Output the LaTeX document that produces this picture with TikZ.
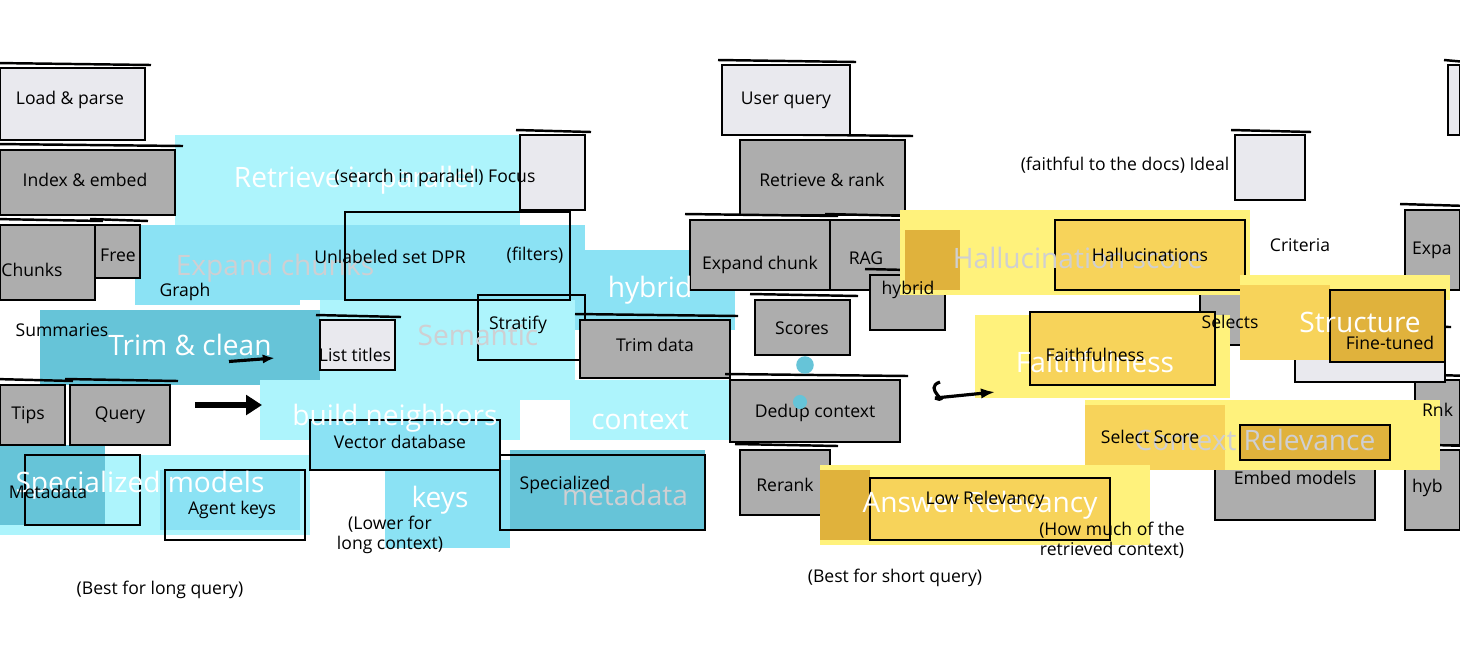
\documentclass[tikz,border=0pt]{standalone}
\usepackage{fontspec}
\setmainfont{Open Sans}
\usetikzlibrary{arrows.meta, positioning}
\definecolor{paper}{HTML}{E9E9EE}
\definecolor{stone}{HTML}{ADADAD}
\definecolor{skyA}{HTML}{ADF4FC}
\definecolor{skyB}{HTML}{8BE2F4}
\definecolor{skyC}{HTML}{66C4D8}
\definecolor{sunA}{HTML}{FFF27C}
\definecolor{sunB}{HTML}{F7D35A}
\definecolor{sunC}{HTML}{E0B23C}
\definecolor{ghost}{HTML}{CFCFD2}
\tikzset{
  sketch/.style={draw=black, line width=1.4pt},
  big/.style={text=white, font=\fontsize{16}{18}\selectfont},
  faded/.style={big, text=ghost},
  small/.style={text=black, font=\fontsize{10}{11}\selectfont, align=center, inner sep=1pt},
}

\begin{document}
\begin{tikzpicture}[x=0.02cm, y=-0.02cm]
\useasboundingbox (0,0) rectangle (1460,657);

% cyan part, left
\fill[skyA] (175,135) rectangle (520,225);
\fill[skyB] (135,225) rectangle (300,305);
\fill[skyB] (300,225) rectangle (585,300);
\fill[skyB] (575,250) rectangle (735,330);
\fill[skyA] (320,300) rectangle (575,400);
\fill[skyC] (40,310) rectangle (320,385);
\fill[skyA] (260,380) rectangle (520,440);
\fill[skyB] (310,420) rectangle (500,470);
\fill[skyA] (570,380) rectangle (730,440);
\fill[skyA] (0,455) rectangle (310,535);
\fill[skyC] (0,445) rectangle (105,525);
\fill[skyB] (160,470) rectangle (300,530);
\fill[skyB] (385,460) rectangle (510,548);
\fill[skyC] (510,450) rectangle (705,530);
\draw[sketch] (345,212) rectangle (570,300);
\draw[sketch] (478,295) rectangle (585,360);
\draw[sketch] (25,455) rectangle (140,525);
\draw[sketch] (165,470) rectangle (305,540);
\draw[sketch] (310,420) rectangle (500,470);
\draw[sketch] (500,455) rectangle (705,530);

% gray boxes
\foreach \a/\b/\c/\d in {0/150/175/215, 0/225/95/300, 95/225/140/278, 0/385/65/445,
    70/385/170/445, 740/140/905/215, 690/220/830/290, 830/220/905/290, 870/275/945/330,
    755/300/850/355, 580/320/730/378, 730/380/900/442, 740/450/830/515,
    1405/210/1460/290, 1200/285/1262/345, 1415/380/1460/445, 1215/430/1375/520,
    1405/450/1460/530}
  {\draw[sketch, fill=stone] (\a,\b) rectangle (\c,\d);
   \draw[sketch] (\a-5,\b-6) -- (\c+8,\b-4);}

% light boxes
\foreach \a/\b/\c/\d in {0/68/145/140, 722/65/850/135, 520/135/585/210,
    1235/135/1305/200, 1448/65/1460/135, 320/320/395/370, 1295/330/1445/382}
  {\draw[sketch, fill=paper] (\a,\b) rectangle (\c,\d);
   \draw[sketch] (\a-4,\b-5) -- (\c+6,\b-3);}

% yellow part, right
\fill[sunA] (900,210) rectangle (1250,295);
\fill[sunC] (905,230) rectangle (960,290);
\draw[sketch, fill=sunB] (1055,220) rectangle (1245,290);
\fill[sunA] (1240,275) rectangle (1450,300);
\fill[sunB] (1240,285) rectangle (1330,360);
\draw[sketch, fill=sunC] (1330,290) rectangle (1445,362);
\fill[sunA] (975,315) rectangle (1230,398);
\draw[sketch, fill=sunB] (1030,312) rectangle (1215,385);
\fill[sunA] (1085,400) rectangle (1440,470);
\fill[sunB] (1085,405) rectangle (1225,470);
\draw[sketch, fill=sunC] (1240,425) rectangle (1390,460);
\fill[sunA] (820,465) rectangle (1150,545);
\fill[sunC] (820,470) rectangle (870,540);
\draw[sketch, fill=sunB] (870,478) rectangle (1110,540);

% big labels
\node[big] (retrieve) at (355,180) {Retrieve in parallel};
\node[faded] (expand) at (275,268) {Expand chunks};
\node[big] (trim) at (190,345) {Trim \& clean};
\node[faded] (semantic) at (478,335) {Semantic};
\node[big] (hybrid) at (650,290) {hybrid};
\node[big] (neighbors) at (395,418) {build neighbors};
\node[big] (special) at (140,485) {Specialized models};
\node[big] (keys) at (440,500) {keys};
\node[big] (context) at (640,420) {context};
\node[faded] (meta) at (625,495) {metadata};
\node[faded] (halluc) at (1078,258) {Hallucination score};
\node[big] (struct) at (1360,322) {Structure};
\node[big] (faith) at (1095,362) {Faithfulness};
\node[faded] (ctxrel) at (1255,440) {Context Relevance};
\node[big] (ansrel) at (980,505) {Answer Relevancy};

% small labels
\node[small] (load) at (70,100) {Load \& parse};
\node[small] (index) at (85,180) {Index \& embed};
\node[small] (chunks) at (32,270) {Chunks};
\node[small] (free) at (118,255) {Free};
\node[small] (graph) at (185,292) {Graph};
\node[small] (summ) at (62,330) {Summaries};
\node[small] (tips) at (28,415) {Tips};
\node[small] (query) at (120,415) {Query};
\node[small] (metab) at (48,492) {Metadata};
\node[small] (agent) at (232,510) {Agent keys};
\node[small] (focus) at (435,178) {(search in parallel) Focus};
\node[small] (unlab) at (390,257) {Unlabeled set DPR};
\node[small] (filters) at (535,255) {(filters)};
\node[small] (strat) at (518,325) {Stratify};
\node[small] (titles) at (355,355) {List titles};
\node[small] (vecdb) at (400,442) {Vector database};
\node[small] (lower) at (390,535) {(Lower for\\ long context)};
\node[small] (bestlong) at (160,590) {(Best for long query)};
\node[small] (user) at (786,100) {User query};
\node[small] (retrank) at (822,180) {Retrieve \& rank};
\node[small] (expchunk) at (760,265) {Expand chunk};
\node[small] (rag) at (866,258) {RAG};
\node[small] (hybridb) at (908,290) {hybrid};
\node[small] (scores) at (802,328) {Scores};
\node[small] (trimdata) at (655,345) {Trim data};
\node[small] (dedup) at (815,413) {Dedup context};
\node[small] (rerank) at (785,485) {Rerank};
\node[small] (specb) at (565,485) {Specialized};
\node[small] (bestshort) at (895,578) {(Best for short query)};
\node[small] (ideal) at (1125,165) {(faithful to the docs) Ideal};
\node[small] (crit) at (1300,245) {Criteria};
\node[small] (haldark) at (1150,255) {Hallucinations};
\node[small] (select) at (1230,322) {Selects};
\node[small] (finetune) at (1390,343) {Fine-tuned};
\node[small] (faithb) at (1095,355) {Faithfulness};
\node[small] (selscore) at (1150,437) {Select Score};
\node[small] (embed) at (1295,478) {Embed models};
\node[small] (howmuch) at (1112,540) {(How much of the\\ retrieved context)};
\node[small] (answb) at (985,500) {Low Relevancy};
\node[small, anchor=west] (expa) at (1410,250) {Expa};
\node[small, anchor=west] (rank) at (1420,410) {Rnk};
\node[small, anchor=west] (hyb2) at (1410,488) {hyb};

% arrows and dots
\coordinate (a1s) at (195,405);
\coordinate (a1e) at (262,405);
\draw[-{Triangle[length=9pt, width=11pt]}, line width=3pt] (a1s) -- (a1e);
\coordinate (a2s) at (222,362);
\coordinate (a2e) at (275,358);
\draw[-{Latex[length=7pt]}, line width=1.8pt] (a2s) -- (a2e);
\fill[skyC] (a2s) circle (4pt);
\coordinate (a3s) at (935,398);
\coordinate (a3e) at (995,392);
\draw[line width=1.8pt] (940,382) .. controls (922,388) and (952,404) .. (a3s);
\draw[-{Latex[length=8pt]}, line width=1.8pt] (a3s) -- (a3e);
\fill[skyC] (805,365) circle (5pt);
\fill[skyC] (800,402) circle (4pt);
\end{tikzpicture}
\end{document}
